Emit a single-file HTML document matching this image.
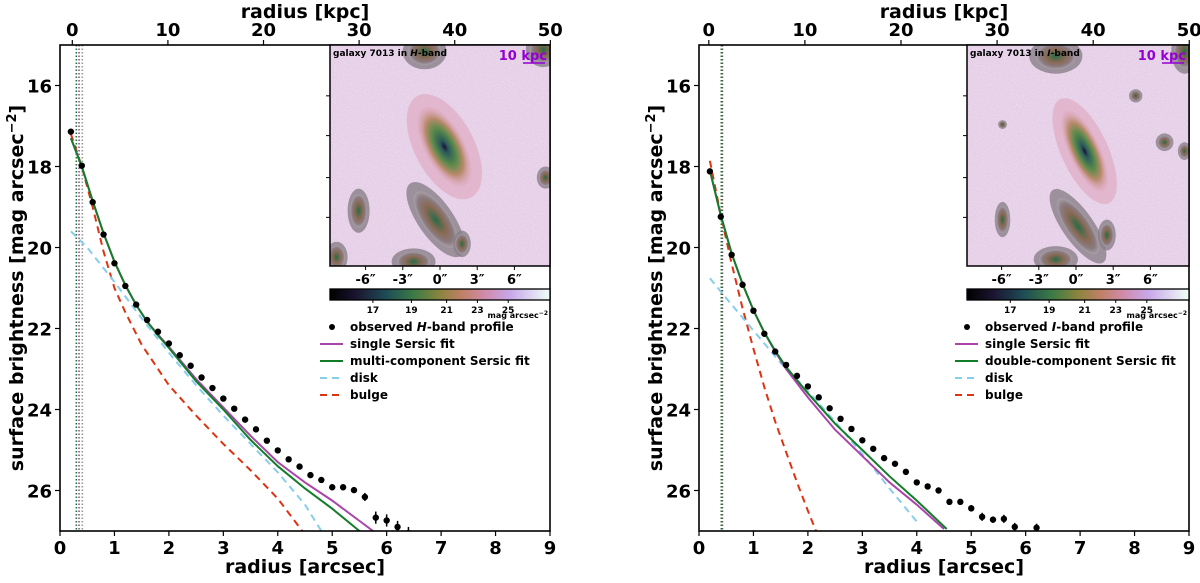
<!DOCTYPE html>
<html><head><meta charset="utf-8">
<style>
body{margin:0;background:#fff;}
svg text{font-family:"DejaVu Sans","Liberation Sans",sans-serif;font-weight:bold;}
</style></head>
<body>
<svg id="fig" width="1200" height="578" viewBox="0 0 1200 578" xmlns="http://www.w3.org/2000/svg">
<defs>
<linearGradient id="cmap" x1="0" x2="1" y1="0" y2="0">
<stop offset="0" stop-color="#000000"/><stop offset="0.12" stop-color="#1b1530"/>
<stop offset="0.25" stop-color="#1d4a55"/><stop offset="0.38" stop-color="#3b7a45"/>
<stop offset="0.5" stop-color="#8a853e"/><stop offset="0.6" stop-color="#c08065"/>
<stop offset="0.7" stop-color="#d08aa8"/><stop offset="0.82" stop-color="#c8a8e8"/>
<stop offset="1" stop-color="#f0fff8"/></linearGradient>
<radialGradient id="gal"><stop offset="0" stop-color="#1a1035"/><stop offset="0.15" stop-color="#2a5a5a"/>
<stop offset="0.45" stop-color="#5a8a4a"/><stop offset="0.7" stop-color="#b88a6a"/><stop offset="1" stop-color="#e0a8c0" stop-opacity="0.3"/></radialGradient>
<radialGradient id="obj"><stop offset="0" stop-color="#2a6a45"/><stop offset="0.5" stop-color="#8a6a55"/>
<stop offset="0.8" stop-color="#8a7a80"/><stop offset="1" stop-color="#a8a0a8"/></radialGradient>
<filter id="noise"><feTurbulence type="fractalNoise" baseFrequency="0.9" numOctaves="1" seed="3"/>
<feColorMatrix values="0 0 0 0 1  0 0 0 0 1  0 0 0 0 1  0 0 0 1.6 -0.8"/></filter>
</defs>
</svg>
<script>
// ---- data: left panel (H-band) ----
const hRadius = [0.2,0.4,0.6,0.8,1.0,1.2,1.4,1.6,1.8,2.0,2.2,2.4,2.6,2.8,3.0,3.2,3.4,3.6,3.8,4.0,4.2,4.4,4.6,4.8,5.0,5.2,5.4,5.6,5.8,6.0,6.2,6.4];
const hMag = [17.14,17.98,18.88,19.68,20.39,20.95,21.41,21.79,22.08,22.37,22.66,22.92,23.21,23.47,23.73,23.98,24.25,24.49,24.77,25.01,25.23,25.41,25.62,25.74,25.92,25.92,25.99,26.16,26.67,26.74,26.9,27.05];
const hErr = [0.03,0.03,0.03,0.03,0.03,0.03,0.03,0.03,0.03,0.03,0.03,0.03,0.03,0.03,0.03,0.03,0.03,0.03,0.03,0.03,0.03,0.03,0.04,0.05,0.06,0.06,0.07,0.1,0.15,0.15,0.15,0.15];
const hSingleR = [0.2,0.4,0.6,0.8,1.0,1.2,1.4,1.6,1.8,2.0,2.5,3.0,3.5,4.0,4.5,5.0,5.5,5.75];
const hSingleM = [17.3,18.0,18.85,19.65,20.35,20.93,21.42,21.83,22.15,22.45,23.25,23.95,24.65,25.3,25.8,26.25,26.75,27.0];
const hMultiR = [0.2,0.4,0.6,0.8,1.0,1.2,1.4,1.6,1.8,2.0,2.5,3.0,3.5,4.0,4.5,5.0,5.5];
const hMultiM = [17.3,18.0,18.85,19.65,20.35,20.93,21.42,21.83,22.17,22.48,23.3,24.0,24.75,25.4,25.95,26.45,27.0];
const hDiskR = [0.2,0.5,1.0,1.5,2.0,2.5,3.0,3.5,4.0,4.5,4.8];
const hDiskM = [19.6,20.0,20.85,21.75,22.6,23.4,24.15,24.85,25.55,26.35,27.0];
const hBulgeR = [0.2,0.4,0.6,0.8,1.0,1.2,1.5,2.0,2.5,3.0,3.5,4.0,4.45];
const hBulgeM = [17.2,18.0,19.0,20.1,21.0,21.6,22.4,23.4,24.15,24.85,25.5,26.2,27.0];
// ---- data: right panel (I-band) ----
const iRadius = [0.2,0.4,0.6,0.8,1.0,1.2,1.4,1.6,1.8,2.0,2.2,2.4,2.6,2.8,3.0,3.2,3.4,3.6,3.8,4.0,4.2,4.4,4.6,4.8,5.0,5.2,5.4,5.6,5.8,6.2];
const iMag = [18.12,19.24,20.18,20.92,21.56,22.13,22.57,22.9,23.17,23.43,23.7,23.97,24.23,24.48,24.76,24.97,25.2,25.34,25.54,25.8,25.9,26.0,26.28,26.28,26.44,26.65,26.72,26.7,26.9,26.92];
const iErr = [0.03,0.03,0.03,0.03,0.03,0.03,0.03,0.03,0.03,0.03,0.03,0.03,0.03,0.03,0.03,0.03,0.03,0.03,0.04,0.04,0.04,0.05,0.07,0.07,0.08,0.1,0.08,0.1,0.1,0.1];
const iSingleR = [0.2,0.4,0.6,0.8,1.0,1.2,1.4,1.6,2.0,2.5,3.0,3.5,4.0,4.5];
const iSingleM = [18.1,19.2,20.15,20.9,21.55,22.1,22.57,23.0,23.7,24.5,25.15,25.8,26.35,26.95];
const iDoubleR = [0.2,0.4,0.6,0.8,1.0,1.2,1.4,1.6,2.0,2.5,3.0,3.5,4.0,4.55];
const iDoubleM = [18.1,19.2,20.15,20.9,21.55,22.1,22.55,22.95,23.6,24.35,25.0,25.65,26.25,26.95];
const iDiskR = [0.2,0.5,1.0,1.5,2.0,2.5,3.0,3.5,4.05];
const iDiskM = [20.76,21.25,22.05,22.85,23.55,24.3,25.1,25.95,26.85];
const iBulgeR = [0.2,0.4,0.6,0.8,1.0,1.2,1.4,1.6,1.8,2.0,2.15];
const iBulgeM = [17.86,19.2,20.4,21.5,22.5,23.45,24.3,25.05,25.8,26.5,27.0];
// ---- tick labels ----
const xTicks = [0,1,2,3,4,5,6,7,8,9];
const yTicks = [16,18,20,22,24,26];
const kpcTicks = [0,10,20,30,40,50];
const insetTicks = [-6,-3,0,3,6];
const cbarTicks = [17,19,21,23,25];
const cbarFrac = [0.195,0.37,0.53,0.67,0.81];

const NS='http://www.w3.org/2000/svg';
const svg=document.getElementById('fig');
function mk(tag,attrs,parent,text){const e=document.createElementNS(NS,tag);for(const k in attrs)e.setAttribute(k,attrs[k]);if(text!==undefined)e.textContent=text;(parent||svg).appendChild(e);return e;}

function panel(cfg){
  const L=cfg.left,R=cfg.left+490,T=45,B=531;
  const xs=v=>L+(v/9)*(R-L), ys=v=>T+(v-15)/12*(B-T);
  const g=mk('g',{});
  
  
  const clipId='clip'+cfg.left;
  const cp=mk('clipPath',{id:clipId},g);mk('rect',{x:L,y:T,width:R-L,height:B-T},cp);
  const plot=mk('g',{'clip-path':'url(#'+clipId+')'},g);
  cfg.vlines.forEach(v=>{const l=mk('line',{x1:xs(v[0]),x2:xs(v[0]),y1:T,y2:B,stroke:v[1],'stroke-width':1.6,'stroke-dasharray':'1.5,2'},plot);
    
    });
  function line(rs,ms,color,dash,name){
    const p=mk('polyline',{points:rs.map((r,i)=>xs(r)+','+ys(ms[i])).join(' '),fill:'none',stroke:color,'stroke-width':2,'stroke-dasharray':dash||'none'},plot);
    
    
  }
  line(cfg.bulge[0],cfg.bulge[1],'#dd3311','7,5','bulge-curve');
  line(cfg.disk[0],cfg.disk[1],'#87ceeb','7,5','disk-curve');
  line(cfg.single[0],cfg.single[1],'#aa44aa',null,'single-sersic-curve');
  line(cfg.multi[0],cfg.multi[1],'#137d2a',null,'multi-sersic-curve');
  cfg.pts[0].forEach((r,i)=>{
    const m=cfg.pts[1][i],e=cfg.pts[2][i];
    const eb=mk('line',{x1:xs(r),x2:xs(r),y1:ys(m-e),y2:ys(m+e),stroke:'#000','stroke-width':1.5},plot);
    
    
    const c=mk('circle',{cx:xs(r),cy:ys(m),r:3.2,fill:'#000'},plot);
    
    
  });
  mk('rect',{x:L,y:T,width:R-L,height:B-T,fill:'none',stroke:'#000','stroke-width':1.6},g);
  xTicks.forEach(t=>{mk('line',{x1:xs(t),x2:xs(t),y1:B,y2:B+5,stroke:'#000','stroke-width':1.2},g);
    const tx=mk('text',{x:xs(t),y:B+23,'text-anchor':'middle','font-size':18},g,String(t));
    
    });
  yTicks.forEach(t=>{mk('line',{x1:L-5,x2:L,y1:ys(t),y2:ys(t),stroke:'#000','stroke-width':1.2},g);
    const tx=mk('text',{x:L-8,y:ys(t)+7,'text-anchor':'end','font-size':18},g,String(t));
    
    });
  kpcTicks.forEach(t=>{const x=xs(cfg.kpc0+t*cfg.kpcScale);mk('line',{x1:x,x2:x,y1:T-5,y2:T,stroke:'#000','stroke-width':1.2},g);
    const tx=mk('text',{x:x,y:T-9,'text-anchor':'middle','font-size':18},g,String(t));
    
    });
  const xl=mk('text',{x:(L+R)/2,y:573,'text-anchor':'middle','font-size':19},g,'radius [arcsec]');
  
  
  const tl=mk('text',{x:(L+R)/2,y:18,'text-anchor':'middle','font-size':19},g,'radius [kpc]');
  
  
  const yl=mk('text',{x:0,y:0,'text-anchor':'middle','font-size':19,transform:'translate('+(L-37)+','+((T+B)/2)+') rotate(-90)'},g);
  
  
  yl.textContent='surface brightness [mag arcsec';
  mk('tspan',{dy:-7,'font-size':13},yl,'−2');mk('tspan',{dy:7},yl,']');
  // inset image
  const IL=cfg.insetL,IR=R,IT=T,IB=266,IW=IR-IL,IH=IB-IT;
  const ig=mk('g',{},g);
  
  
  const icp=mk('clipPath',{id:'ic'+cfg.left},ig);mk('rect',{x:IL,y:IT,width:IW,height:IH},icp);
  const ic=mk('g',{'clip-path':'url(#ic'+cfg.left+')'},ig);
  mk('rect',{x:IL,y:IT,width:IW,height:IH,fill:'#e6d0e8'},ic);
  mk('rect',{x:IL,y:IT,width:IW,height:IH,filter:'url(#noise)',opacity:0.7},ic);
  cfg.objs.forEach(o=>{mk('ellipse',{cx:IL+o[0]*IW,cy:IT+o[1]*IH,rx:o[2]*IW,ry:o[3]*IH,fill:'#8a8088',opacity:0.8,transform:'rotate('+o[4]+' '+(IL+o[0]*IW)+' '+(IT+o[1]*IH)+')'},ic);
    mk('ellipse',{cx:IL+o[0]*IW,cy:IT+o[1]*IH,rx:o[2]*IW*0.75,ry:o[3]*IH*0.75,fill:'url(#obj)',transform:'rotate('+o[4]+' '+(IL+o[0]*IW)+' '+(IT+o[1]*IH)+')'},ic);});
  const c=cfg.main;
  mk('ellipse',{cx:IL+c[0]*IW,cy:IT+c[1]*IH,rx:c[2]*IW*1.5,ry:c[3]*IH*1.3,fill:'#dca0b8',opacity:0.55,transform:'rotate('+c[4]+' '+(IL+c[0]*IW)+' '+(IT+c[1]*IH)+')'},ic);
  mk('ellipse',{cx:IL+c[0]*IW,cy:IT+c[1]*IH,rx:c[2]*IW,ry:c[3]*IH,fill:'url(#gal)',transform:'rotate('+c[4]+' '+(IL+c[0]*IW)+' '+(IT+c[1]*IH)+')'},ic);
  mk('rect',{x:IL,y:IT,width:IW,height:IH,fill:'none',stroke:'#000','stroke-width':1.5},ig);
  const it=mk('text',{x:IL+3,y:IT+11,'font-size':9},ig,'galaxy 7013 in ');
  mk('tspan',{'font-style':'italic'},it,cfg.band);mk('tspan',{},it,'-band');
  
  const sb=mk('text',{x:IR-3,y:IT+15,'text-anchor':'end','font-size':13,fill:'#9400d3'},ig,'10 kpc');
  
  mk('line',{x1:IR-27,x2:IR-5,y1:IT+18,y2:IT+18,stroke:'#9400d3','stroke-width':1.5},ig);
  [0.23,0.41,0.6,0.78].forEach(f=>mk('line',{x1:IL-4,x2:IL,y1:IT+f*IH,y2:IT+f*IH,stroke:'#000'},ig));
  insetTicks.forEach(t=>{const x=IL+IW*0.5+cfg.insetCx+t*cfg.insetScale;mk('line',{x1:x,x2:x,y1:IB,y2:IB+4,stroke:'#000'},ig);
    const tx=mk('text',{x:x,y:IB+18,'text-anchor':'middle','font-size':13},ig,t+'″');
    
    });
  const cb=mk('rect',{x:IL,y:289,width:IW,height:11,fill:'url(#cmap)',stroke:'#000','stroke-width':1.3},g);
  
  
  cbarTicks.forEach((t,i)=>{const x=IL+cbarFrac[i]*IW;mk('line',{x1:x,x2:x,y1:300,y2:303,stroke:'#000'},g);
    const tx=mk('text',{x:x,y:313,'text-anchor':'middle','font-size':9},g,String(t));
    
    });
  const cu=mk('text',{x:IR-2,y:318,'text-anchor':'end','font-size':8},g,'mag arcsec');
  mk('tspan',{dy:-3,'font-size':6},cu,'−2');
  const lg=mk('g',{},g);
  
  
  const lx=cfg.legX, ly=[331,348,365,382,399];
  mk('circle',{cx:lx+12,cy:ly[0]-4,r:3,fill:'#000'},lg);
  const e0=mk('text',{x:lx+30,y:ly[0],'font-size':12},lg,'observed ');
  mk('tspan',{'font-style':'italic'},e0,cfg.band);mk('tspan',{},e0,'-band profile');
  const items=[['#aa44aa','none','single Sersic fit'],['#137d2a','none',cfg.multiLabel],['#87ceeb','7,5','disk'],['#dd3311','7,5','bulge']];
  items.forEach((it2,i)=>{mk('line',{x1:lx,x2:lx+23,y1:ly[i+1]-4,y2:ly[i+1]-4,stroke:it2[0],'stroke-width':2,'stroke-dasharray':it2[1]},lg);
    const t=mk('text',{x:lx+30,y:ly[i+1],'font-size':12},lg,it2[2]);
    
    });
}

panel({name:'h-band-panel',left:60,band:'H',multiLabel:'multi-component Sersic fit',
  pts:[hRadius,hMag,hErr],single:[hSingleR,hSingleM],multi:[hMultiR,hMultiM],disk:[hDiskR,hDiskM],bulge:[hBulgeR,hBulgeM],
  vlines:[[0.30,'#137d2a'],[0.35,'#aa44aa'],[0.41,'#999']],kpc0:0.226,kpcScale:0.1756,
  insetL:330,insetCx:0,insetScale:12.4,legX:320,
  main:[0.52,0.46,0.09,0.2,-28],
  objs:[[0.48,0.79,0.08,0.2,-35],[0.13,0.75,0.05,0.1,0],[0.43,0.03,0.1,0.08,0],[0.98,0.6,0.04,0.05,0],[0.38,0.98,0.1,0.06,0],[0.97,0.02,0.08,0.08,0],[0.6,0.9,0.04,0.06,0],[0.03,0.96,0.05,0.07,0]]});
panel({name:'i-band-panel',left:699,band:'I',multiLabel:'double-component Sersic fit',
  pts:[iRadius,iMag,iErr],single:[iSingleR,iSingleM],multi:[iDoubleR,iDoubleM],disk:[iDiskR,iDiskM],bulge:[iBulgeR,iBulgeM],
  vlines:[[0.41,'#137d2a'],[0.43,'#555']],kpc0:0.18,kpcScale:0.1765,
  insetL:967,insetCx:-2,insetScale:12.4,legX:955,
  main:[0.53,0.48,0.07,0.2,-25],
  objs:[[0.5,0.82,0.07,0.2,-35],[0.16,0.79,0.035,0.08,0],[0.4,0.05,0.12,0.08,0],[0.76,0.23,0.03,0.03,0],[0.89,0.44,0.04,0.04,0],[0.16,0.36,0.02,0.02,0],[0.4,0.97,0.1,0.06,0],[0.98,0.03,0.06,0.1,0],[0.63,0.86,0.04,0.07,0],[0.98,0.48,0.03,0.04,0]]});
</script>
</body></html>
